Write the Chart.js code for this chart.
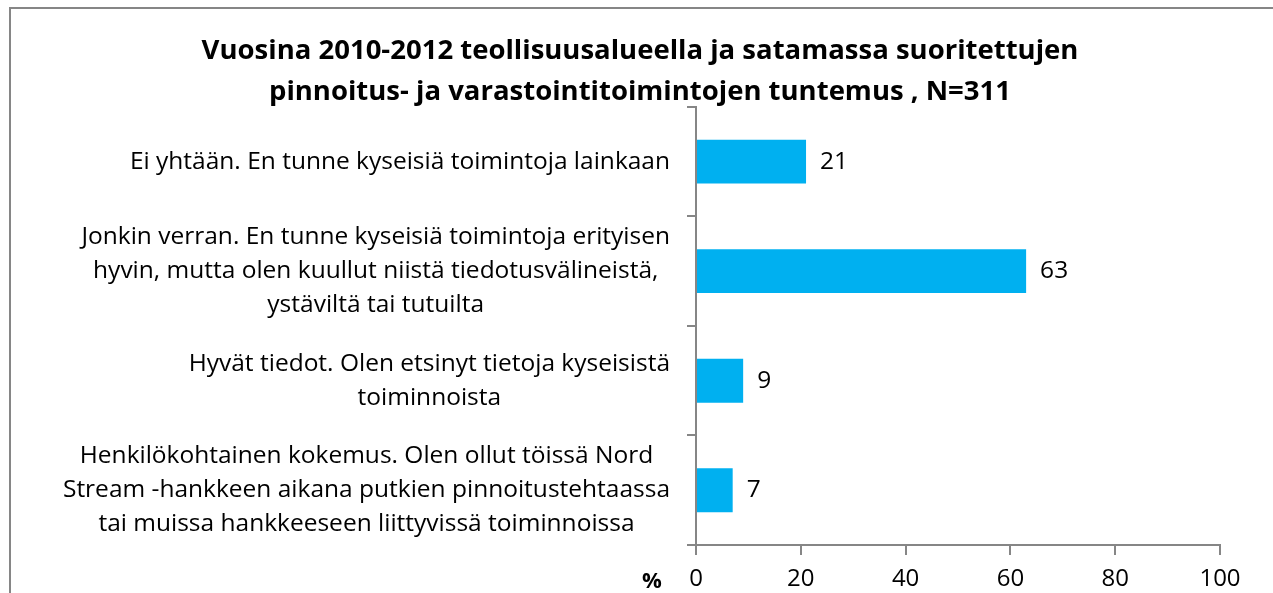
<!DOCTYPE html>
<html>
<head>
<meta charset="utf-8">
<script src="https://cdn.jsdelivr.net/npm/chart.js@4/dist/chart.umd.min.js"></script>
<style>
  html, body { margin: 0; padding: 0; background: #fff; }
  #wrap { width: 1273px; height: 593px; }
</style>
</head>
<body>
<div id="wrap"><canvas id="chart" width="1273" height="593"></canvas></div>
<script>
// data
const categories = [
    ['Ei yhtään. En tunne kyseisiä toimintoja lainkaan'],
    ['Jonkin verran. En tunne kyseisiä toimintoja erityisen', 'hyvin, mutta olen kuullut niistä tiedotusvälineistä,', 'ystäviltä tai tutuilta'],
    ['Hyvät tiedot. Olen etsinyt tietoja kyseisistä', 'toiminnoista'],
    ['Henkilökohtainen kokemus. Olen ollut töissä Nord', 'Stream -hankkeen aikana putkien pinnoitustehtaassa', 'tai muissa hankkeeseen liittyvissä toiminnoissa']
];
const values = [21, 63, 9, 7];
const xTickValues = [0, 20, 40, 60, 80, 100];
const titleLines = [
    'Vuosina 2010-2012 teollisuusalueella ja satamassa suoritettujen',
    'pinnoitus- ja varastointitoimintojen tuntemus , N=311'
];
const unitLabel = '%';

const FONT = '"Open Sans", Lato, sans-serif';
const BAR_COLOR = '#00B0F0';
const AXIS_COLOR = '#868686';

// white background + grey frame around the whole chart
const framePlugin = {
    id: 'frame',
    beforeDraw(chart) {
        const ctx = chart.ctx;
        ctx.save();
        ctx.fillStyle = '#fff';
        ctx.fillRect(0, 0, chart.width, chart.height);
        ctx.strokeStyle = AXIS_COLOR;
        ctx.lineWidth = 2;
        ctx.strokeRect(10, 8, chart.width + 20, chart.height + 50);
        ctx.restore();
    }
};

// category labels: block right aligned, lines centred inside the block
const categoryLabelPlugin = {
    id: 'categoryLabels',
    afterDraw(chart) {
        const ctx = chart.ctx;
        const yScale = chart.scales.y;
        const lineH = 34;
        ctx.save();
        ctx.font = '24.5px ' + FONT;
        ctx.fillStyle = '#000';
        ctx.textAlign = 'center';
        ctx.textBaseline = 'middle';
        categories.forEach((lines, i) => {
            const cy = yScale.getPixelForValue(i);
            const widest = Math.max(...lines.map(l => ctx.measureText(l).width));
            const cx = yScale.right - 26 - widest / 2;
            lines.forEach((line, j) => {
                ctx.fillText(line, cx, cy + (j - (lines.length - 1) / 2) * lineH);
            });
        });
        // unit label left of the x axis ticks
        const xScale = chart.scales.x;
        ctx.font = 'bold 22px ' + FONT;
        ctx.fillText(unitLabel, xScale.left - 44, xScale.top + 37);
        ctx.restore();
    }
};

// value labels at the end of each bar
const valueLabelPlugin = {
    id: 'valueLabels',
    afterDatasetsDraw(chart) {
        const ctx = chart.ctx;
        const meta = chart.getDatasetMeta(0);
        ctx.save();
        ctx.font = '24.5px ' + FONT;
        ctx.fillStyle = '#000';
        ctx.textAlign = 'left';
        ctx.textBaseline = 'middle';
        meta.data.forEach((bar, i) => {
            ctx.fillText(String(values[i]), bar.x + 14, bar.y);
        });
        ctx.restore();
    }
};

new Chart(document.getElementById('chart'), {
    type: 'bar',
    data: {
        labels: categories.map(c => c.join(' ')),
        datasets: [{
            data: values,
            backgroundColor: BAR_COLOR,
            borderWidth: 0,
            barPercentage: 0.4,
            categoryPercentage: 1
        }]
    },
    options: {
        indexAxis: 'y',
        responsive: false,
        animation: false,
        devicePixelRatio: 1,
        // left padding keeps the title centred near x=640
        layout: { padding: { left: 60, right: 53, top: 0, bottom: 0 } },
        plugins: {
            legend: { display: false },
            tooltip: { enabled: false },
            title: {
                display: true,
                text: titleLines,
                color: '#000',
                font: { family: FONT, size: 27.5, weight: 'bold', lineHeight: 1.49 },
                padding: { top: 31, bottom: -6 }
            }
        },
        scales: {
            x: {
                min: 0,
                max: 100,
                afterBuildTicks: scale => { scale.ticks = xTickValues.map(v => ({ value: v })); },
                afterFit: scale => { scale.height = 48; },
                ticks: {
                    color: '#000',
                    font: { family: FONT, size: 24 },
                    padding: 10
                },
                grid: {
                    drawOnChartArea: false,
                    tickLength: 10,
                    color: AXIS_COLOR,
                    lineWidth: 2
                },
                border: { color: AXIS_COLOR, width: 2 }
            },
            y: {
                afterFit: scale => { scale.width = 636; },
                ticks: { display: false },
                grid: {
                    offset: true,
                    drawOnChartArea: false,
                    tickLength: 9,
                    color: AXIS_COLOR,
                    lineWidth: 2
                },
                border: { color: AXIS_COLOR, width: 2 }
            }
        }
    },
    plugins: [framePlugin, categoryLabelPlugin, valueLabelPlugin]
});
</script>
</body>
</html>
